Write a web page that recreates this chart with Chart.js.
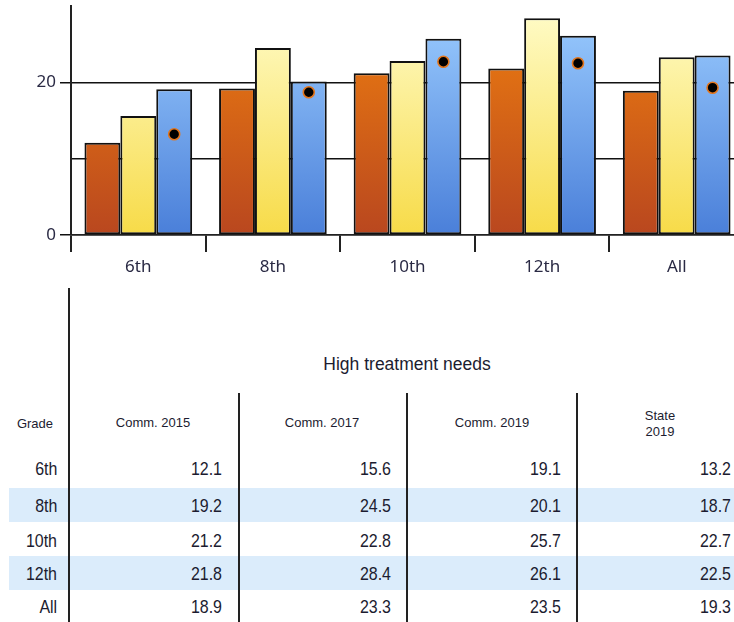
<!DOCTYPE html>
<html>
<head>
<meta charset="utf-8">
<script src="https://cdn.jsdelivr.net/npm/chart.js@4/dist/chart.umd.min.js"></script>
<style>
  html, body { margin: 0; padding: 0; background: #fff; overflow: hidden; }
  #wrap { position: relative; width: 734px; height: 622px; overflow: hidden; }
  #chartBox { position: absolute; left: 0; top: 0; width: 744px; height: 285px; }
  #table { position: absolute; left: 0; top: 0; width: 734px; height: 622px;
           font-family: "Liberation Sans", Arial, sans-serif; color: #1c1c30; }
  .t { position: absolute; white-space: nowrap; line-height: 1; }
  .num { transform: translateY(-50%) scaleX(0.84); transform-origin: right center; }
  .band { position: absolute; background: #dbecfb; }
  .vline { position: absolute; background: #222; }
</style>
</head>
<body>
<div id="wrap">
  <div id="table"></div>
  <div id="chartBox"><canvas id="c" width="744" height="285"></canvas></div>
</div>
<script>
// Grades and the high-treatment-needs percentages per survey
const grades = ["6th", "8th", "10th", "12th", "All"];
const comm2015 = [12.1, 19.2, 21.2, 21.8, 18.9];
const comm2017 = [15.6, 24.5, 22.8, 28.4, 23.3];
const comm2019 = [19.1, 20.1, 25.7, 26.1, 23.5];
const state2019 = [13.2, 18.7, 22.7, 22.5, 19.3];
const yTickLabels = [0, 20];
const tableTitle = "High treatment needs";
const columnHeads = ["Comm. 2015", "Comm. 2017", "Comm. 2019", "State\n2019"];

const labelColor = "#2a2a44";
const chartFont = '"Noto Sans", "Open Sans", sans-serif';

// vertical gradient running from the top of each bar down to the baseline
function barFill(top, bottom) {
  return (c) => {
    const { ctx, chartArea } = c.chart;
    if (!chartArea) return bottom;
    const el = c.element;
    const y0 = el && el.y != null ? el.y : chartArea.top;
    const yb = c.chart.scales.y.getPixelForValue(0);
    const g = ctx.createLinearGradient(0, y0, 0, yb);
    g.addColorStop(0, top);
    g.addColorStop(1, bottom);
    return g;
  };
}

// State markers drawn centred on the Comm. 2019 bars
const stateDots = {
  id: "stateDots",
  afterDatasetsDraw(chart) {
    const meta = chart.getDatasetMeta(2);
    const y = chart.scales.y;
    const ctx = chart.ctx;
    ctx.save();
    state2019.forEach((v, i) => {
      const bar = meta.data[i];
      if (!bar) return;
      ctx.beginPath();
      ctx.arc(bar.x, y.getPixelForValue(v), 5.5, 0, Math.PI * 2);
      ctx.fillStyle = "#000";
      ctx.fill();
      ctx.lineWidth = 1.6;
      ctx.strokeStyle = "#e2761e";
      ctx.stroke();
    });
    ctx.restore();
  }
};

const barCommon = {
  borderColor: "#111",
  borderWidth: 2,
  borderSkipped: false,
  categoryPercentage: 0.8,
  barPercentage: 1.0
};

new Chart(document.getElementById("c"), {
  type: "bar",
  data: {
    labels: grades,
    datasets: [
      Object.assign({ label: "Comm. 2015", data: comm2015, backgroundColor: barFill("#ef7f0f", "#b9471f") }, barCommon),
      Object.assign({ label: "Comm. 2017", data: comm2017, backgroundColor: barFill("#fffcca", "#f7db48") }, barCommon),
      Object.assign({ label: "Comm. 2019", data: comm2019, backgroundColor: barFill("#9ccdff", "#4a7fd9") }, barCommon)
    ]
  },
  options: {
    responsive: false,
    animation: false,
    layout: { padding: { top: 6, right: 0, left: 0, bottom: 0 } },
    plugins: { legend: { display: false }, tooltip: { enabled: false } },
    scales: {
      x: {
        afterFit(s) { s.height = 50; },
        grid: { drawOnChartArea: false, drawTicks: true, tickLength: 17, color: "#222", lineWidth: 2, offset: true },
        border: { display: true, color: "#222", width: 1.5 },
        ticks: { color: labelColor, font: { family: chartFont, size: 17 }, padding: 5 }
      },
      y: {
        min: 0, max: 30,
        afterFit(s) { s.width = 71; s.paddingTop = 0; s.paddingBottom = 0; },
        grid: {
          drawOnChartArea: true,
          color: (c) => (c.tick && c.tick.value === 30 ? "rgba(0,0,0,0)" : "#111"),
          tickColor: (c) => (c.tick && yTickLabels.includes(c.tick.value) ? "#111" : "rgba(0,0,0,0)"),
          lineWidth: 1.5,
          tickLength: 11
        },
        border: { display: true, color: "#222", width: 2 },
        ticks: {
          stepSize: 10,
          padding: 4,
          color: labelColor,
          font: { family: chartFont, size: 17 },
          callback: (v) => (yTickLabels.includes(v) ? String(v) : "")
        }
      }
    }
  },
  plugins: [stateDots]
});

// ---- summary table under the chart ----
const tbl = document.getElementById("table");
function put(cls, css, text) {
  const d = document.createElement("div");
  d.className = cls;
  Object.assign(d.style, css);
  if (text != null) d.textContent = text;
  tbl.appendChild(d);
  return d;
}
const rowY = [468, 505, 540, 573, 606];
const colRight = [222, 391, 561, 731];
const colCenter = [153, 322, 492, 660];
const cols = [comm2015, comm2017, comm2019, state2019];

// shaded rows
[1, 3].forEach((r) => {
  put("band", { left: "9px", width: "725px", top: (rowY[r] - 17) + "px", height: "34px" });
});
// column rules
put("vline", { left: "68px", width: "2px", top: "288px", height: "334px" });
[237.5, 406, 575.5].forEach((x) => put("vline", { left: x + "px", width: "2px", top: "393px", height: "229px" }));

// title
put("t", { left: "407px", top: "365px", transform: "translate(-50%,-50%)", fontSize: "17.5px" }, tableTitle);
// header row
put("t", { left: "35px", top: "423px", transform: "translate(-50%,-50%)", fontSize: "13px" }, "Grade");
columnHeads.forEach((h, i) => {
  put("t", { left: colCenter[i] + "px", top: (i === 3 ? 424 : 423) + "px", transform: "translate(-50%,-50%)",
              fontSize: "13px", textAlign: "center", whiteSpace: "pre", lineHeight: "16px" }, h);
});
// data rows
grades.forEach((g, r) => {
  put("t num", { right: (734 - 57) + "px", top: rowY[r] + "px", fontSize: "19px" }, g);
  cols.forEach((col, c) => {
    put("t num", { right: (734 - colRight[c]) + "px", top: rowY[r] + "px", fontSize: "19px" },
        col[r].toFixed(1));
  });
});
</script>
</body>
</html>
